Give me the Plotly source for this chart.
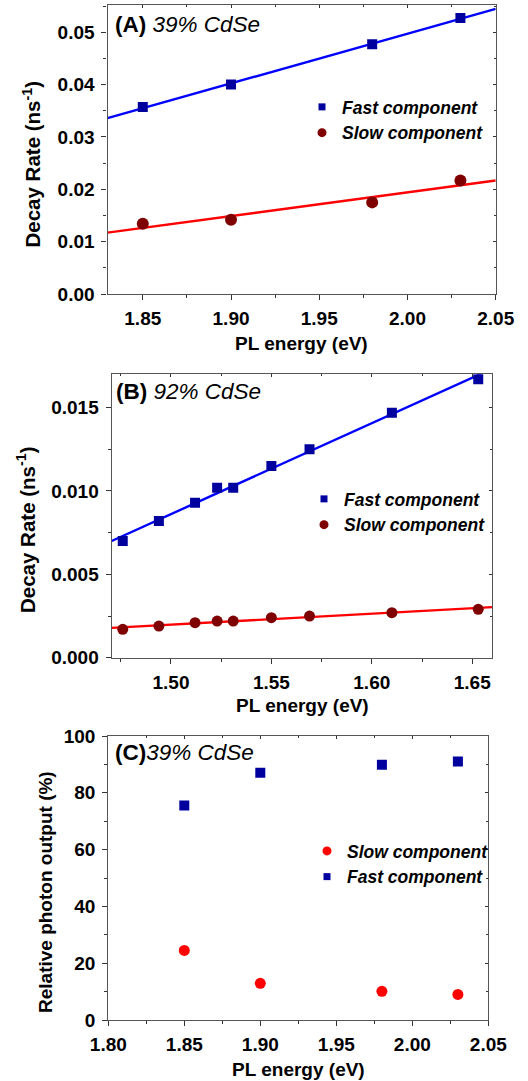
import numpy as np
import plotly.graph_objects as go

W, H = 528, 1081

# (A) 39% CdSe: decay rates vs PL energy
energy_a = [1.85, 1.90, 1.98, 2.03]
fast_rate_a = [0.0357, 0.0400, 0.0477, 0.0527]
slow_rate_a = [0.0134, 0.0142, 0.0175, 0.0217]

# (B) 92% CdSe: decay rates vs PL energy
energy_b = [1.476, 1.494, 1.512, 1.523, 1.531, 1.550, 1.569, 1.610, 1.653]
fast_rate_b = [0.0070, 0.0082, 0.0093, 0.0102, 0.0102, 0.0115, 0.0125, 0.0147, 0.0167]
slow_rate_b = [0.0017, 0.0019, 0.0021, 0.0022, 0.0022, 0.0024, 0.0025, 0.0027, 0.0029]

# (C) 39% CdSe: relative photon output of each component
energy_c = [1.85, 1.90, 1.98, 2.03]
slow_output_c = [24.5, 12.9, 10.1, 9.0]
fast_output_c = [75.5, 87.1, 89.9, 91.0]

FONT = "Arial, Liberation Sans, sans-serif"
NAVY = "#00009F"
DARKRED = "#7F0000"
BLUE = "#0000FF"
RED = "#FF0000"
AXIS = "#555555"
TICK = "#333333"

# plot-area boxes in pixels: (left, right, top, bottom)
boxes = {
    "a": (107.5, 495.7, 5.0, 294.0),
    "b": (111.7, 492.3, 374.3, 657.7),
    "c": (108.3, 488.3, 736.0, 1020.0),
}

ranges = {
    "a": ([1.83, 2.05], [0, 0.0552]),
    "b": ([1.4705, 1.66], [0, 0.017]),
    "c": ([1.80, 2.05], [0, 100]),
}


def px_x(x):
    return x / W


def px_y(y):
    return 1 - y / H


def fit_line(x, y, lo, hi):
    k, b = np.polyfit(x, y, 1)
    xs = np.array([lo, hi])
    return xs, k * xs + b


fig = go.Figure()


def add_markers(x, y, symbol, size, color, xa, ya):
    fig.add_trace(go.Scatter(x=x, y=y, mode="markers",
                             marker=dict(symbol=symbol, size=size, color=color),
                             showlegend=False, xaxis=xa, yaxis=ya))


def add_fit(x, y, color, key, xa, ya):
    lx, ly = fit_line(x, y, *ranges[key][0])
    fig.add_trace(go.Scatter(x=lx, y=ly, mode="lines", line=dict(color=color, width=2.4),
                             showlegend=False, xaxis=xa, yaxis=ya))


def add_key(name, symbol, size, color, legend, xa, ya):
    fig.add_trace(go.Scatter(x=[None], y=[None], mode="markers", name=name,
                             marker=dict(symbol=symbol, size=size, color=color),
                             legend=legend, xaxis=xa, yaxis=ya))


# ---- panel A
add_fit(energy_a, fast_rate_a, BLUE, "a", "x", "y")
add_fit(energy_a, slow_rate_a, RED, "a", "x", "y")
add_markers(energy_a, fast_rate_a, "square", 10, NAVY, "x", "y")
add_markers(energy_a, slow_rate_a, "circle", 12, DARKRED, "x", "y")
add_key("Fast component", "square", 7, NAVY, "legend", "x", "y")
add_key("Slow component", "circle", 9, DARKRED, "legend", "x", "y")

# ---- panel B
add_fit(energy_b, fast_rate_b, BLUE, "b", "x2", "y2")
add_fit(energy_b, slow_rate_b, RED, "b", "x2", "y2")
add_markers(energy_b, fast_rate_b, "square", 10, NAVY, "x2", "y2")
add_markers(energy_b, slow_rate_b, "circle", 11, DARKRED, "x2", "y2")
add_key("Fast component", "square", 7, NAVY, "legend2", "x2", "y2")
add_key("Slow component", "circle", 9, DARKRED, "legend2", "x2", "y2")

# ---- panel C
add_markers(energy_c, fast_output_c, "square", 10, NAVY, "x3", "y3")
add_markers(energy_c, slow_output_c, "circle", 11, RED, "x3", "y3")
add_key("Slow component", "circle", 9, RED, "legend3", "x3", "y3")
add_key("Fast component", "square", 7, NAVY, "legend3", "x3", "y3")

# empty traces hosting the top/right frame axes of each panel
for i in (4, 5, 6):
    fig.add_trace(go.Scatter(x=[None], y=[None], mode="markers", showlegend=False,
                             hoverinfo="skip", xaxis=f"x{i}", yaxis=f"y{i}"))

tickfont = dict(family=FONT, size=19, color="black", weight="bold")


def x_axis(key, anchor, dtick):
    l, r, t, b = boxes[key]
    return dict(domain=[px_x(l), px_x(r)], range=ranges[key][0], anchor=anchor,
                automargin=False,
                showline=True, linecolor=AXIS, linewidth=1.3, mirror=True,
                ticks="outside", ticklen=5, tickwidth=1.2, tickcolor=TICK,
                dtick=dtick, tick0=0, tickformat=".2f",
                minor=dict(ticks="outside", ticklen=3, dtick=dtick / 2, tick0=0,
                           tickcolor=TICK, tickwidth=1),
                showgrid=False, zeroline=False, tickfont=tickfont,
                ticklabelstandoff=2)


def y_axis(key, anchor, dtick, fmt):
    l, r, t, b = boxes[key]
    return dict(domain=[px_y(b), px_y(t)], range=ranges[key][1], anchor=anchor,
                automargin=False,
                showline=True, linecolor=AXIS, linewidth=1.3, mirror=True,
                ticks="outside", ticklen=5, tickwidth=1.2, tickcolor=TICK,
                dtick=dtick, tick0=0, tickformat=fmt,
                minor=dict(ticks="outside", ticklen=3, dtick=dtick / 2, tick0=0,
                           tickcolor=TICK, tickwidth=1),
                showgrid=False, zeroline=False, tickfont=tickfont,
                ticklabelstandoff=3)


def frame_x(key, over, anchor, dtick):
    l, r, t, b = boxes[key]
    return dict(domain=[px_x(l), px_x(r)], range=ranges[key][0], overlaying=over,
                anchor=anchor, side="top", automargin=False, showline=False,
                ticks="inside", ticklen=3, tickwidth=1, tickcolor=TICK,
                dtick=dtick, tick0=0, showticklabels=False, showgrid=False,
                zeroline=False,
                minor=dict(ticks="inside", ticklen=2, dtick=dtick / 2, tick0=0,
                           tickcolor=TICK, tickwidth=1))


def frame_y(key, over, anchor, dtick):
    l, r, t, b = boxes[key]
    return dict(domain=[px_y(b), px_y(t)], range=ranges[key][1], overlaying=over,
                anchor=anchor, side="right", automargin=False, showline=False,
                ticks="inside", ticklen=3, tickwidth=1, tickcolor=TICK,
                dtick=dtick, tick0=0, showticklabels=False, showgrid=False,
                zeroline=False,
                minor=dict(ticks="inside", ticklen=2, dtick=dtick / 2, tick0=0,
                           tickcolor=TICK, tickwidth=1))


def legend_box(xpx, ypx):
    return dict(x=px_x(xpx), y=px_y(ypx), xanchor="left", yanchor="top",
                bgcolor="rgba(0,0,0,0)", borderwidth=0, tracegroupgap=0,
                font=dict(family=FONT, size=17.5, color="black", weight="bold",
                          style="italic"))


title_font = dict(family=FONT, size=19, color="black", weight="bold")
ytitle_font = dict(family=FONT, size=20.5, color="black", weight="bold")
label_font = dict(family=FONT, size=22.5, color="black")

annotations = []
# axis titles
for key, ycen in (("a", 343), ("b", 705), ("c", 1069)):
    l, r, t, b = boxes[key]
    annotations.append(dict(text="PL energy (eV)", x=px_x((l + r) / 2), y=px_y(ycen),
                            xref="paper", yref="paper", showarrow=False,
                            xanchor="center", yanchor="middle", font=title_font))
for text, xcen, ycen, f in (("Decay Rate (ns<sup>-1</sup>)", 31, 164.5, ytitle_font),
                            ("Decay Rate (ns<sup>-1</sup>)", 26, 530, ytitle_font),
                            ("Relative photon output (%)", 45, 892, title_font)):
    annotations.append(dict(text=text, x=px_x(xcen), y=px_y(ycen), textangle=-90,
                            xref="paper", yref="paper", showarrow=False,
                            xanchor="center", yanchor="middle", font=f))
# panel labels
for text, xl, ycen in (("<b>(A)</b> <i>39% CdSe</i>", 113, 25),
                       ("<b>(B)</b> <i>92% CdSe</i>", 114, 391.7),
                       ("<b>(C)</b><i>39% CdSe</i>", 112.5, 752.7)):
    annotations.append(dict(text=text, x=px_x(xl), y=px_y(ycen),
                            xref="paper", yref="paper", showarrow=False,
                            xanchor="left", yanchor="middle", font=label_font))

fig.update_layout(
    width=W, height=H,
    margin=dict(l=0, r=0, t=0, b=0, autoexpand=False),
    paper_bgcolor="white", plot_bgcolor="white",
    font=dict(family=FONT, color="black"),
    xaxis=x_axis("a", "y", 0.05), yaxis=y_axis("a", "x", 0.01, ".2f"),
    xaxis2=x_axis("b", "y2", 0.05), yaxis2=y_axis("b", "x2", 0.005, ".3f"),
    xaxis3=x_axis("c", "y3", 0.05), yaxis3=y_axis("c", "x3", 20, "d"),
    xaxis4=frame_x("a", "x", "y4", 0.05), yaxis4=frame_y("a", "y", "x4", 0.01),
    xaxis5=frame_x("b", "x2", "y5", 0.05), yaxis5=frame_y("b", "y2", "x5", 0.005),
    xaxis6=frame_x("c", "x3", "y6", 0.05), yaxis6=frame_y("c", "y3", "x6", 20),
    legend=legend_box(302, 89),
    legend2=legend_box(304, 481),
    legend3=legend_box(307, 833),
    annotations=annotations,
)

fig.write_html("out.html")
